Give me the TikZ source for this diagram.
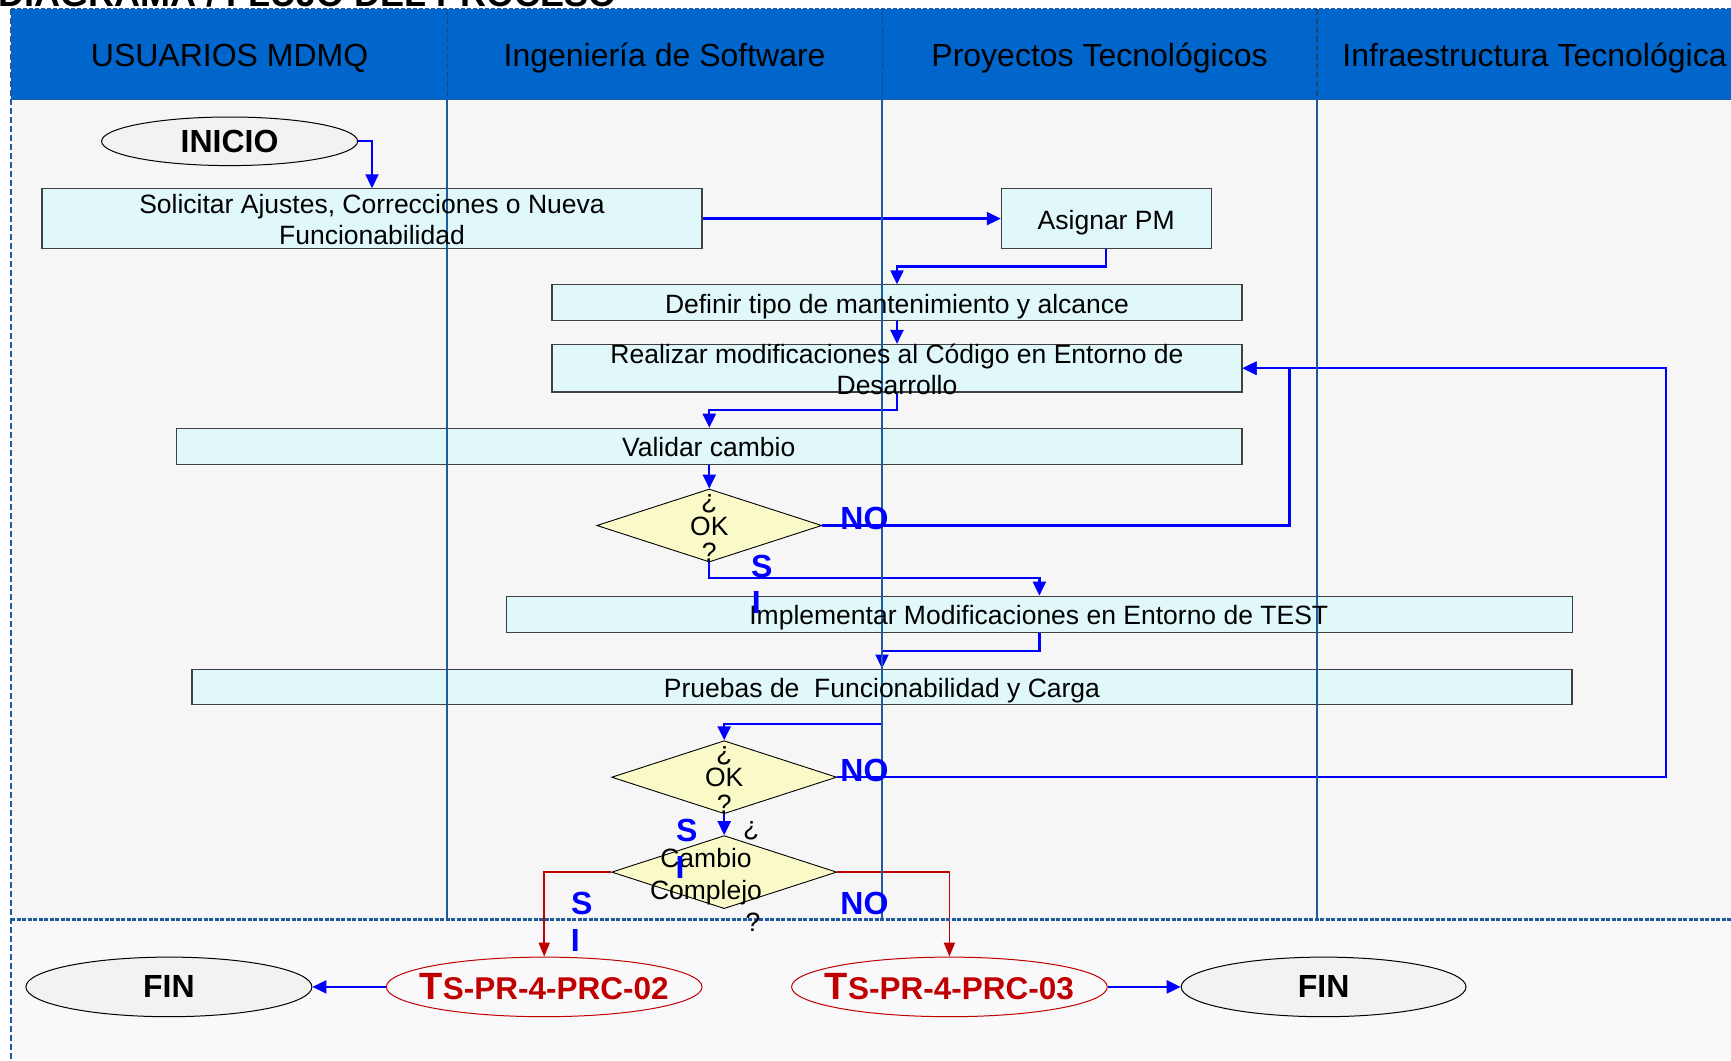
\documentclass[tikz,border=0pt]{standalone}
\usepackage{fontspec}
\setmainfont{Liberation Sans}
\usetikzlibrary{shapes.geometric,arrows.meta}
\definecolor{hdrblue}{HTML}{0066CC}
\definecolor{lanebg}{HTML}{F6F6F6}
\definecolor{lowbg}{HTML}{F9F9FB}
\definecolor{laneline}{HTML}{1F5A9E}
\definecolor{boxfill}{HTML}{E0F8FA}
\definecolor{boxdraw}{HTML}{404040}
\definecolor{diafill}{HTML}{FAFAC8}
\definecolor{ellfill}{HTML}{F2F2F2}
\definecolor{arrblue}{HTML}{0000FF}
\definecolor{tsred}{HTML}{C00000}
\begin{document}
\begin{tikzpicture}[x=1pt,y=-1pt,
  box/.style={rectangle, draw=boxdraw, line width=1.1pt, fill=boxfill, inner sep=0pt},
  boxtxt/.style={font=\fontsize{26.5}{30.9}\selectfont, align=center, inner sep=0pt},
  dia/.style={diamond, draw=black, line width=0.9pt, fill=diafill, inner sep=0pt, minimum width=225pt, minimum height=73pt},
  diatxt/.style={font=\fontsize{26.5}{26.5}\selectfont, align=center, inner sep=0pt},
  ell/.style={ellipse, draw=black, fill=ellfill, inner sep=0pt, line width=1pt, font=\bfseries\fontsize{32}{32}\selectfont},
  tsell/.style={ellipse, draw=tsred, fill=lowbg, inner sep=0pt, line width=1pt, minimum width=315.7pt, minimum height=59.6pt},
  tstxt/.style={text=tsred, font=\bfseries\fontsize{31.5}{31.5}\selectfont, inner sep=0pt},
  conn/.style={draw=arrblue, line width=2.3pt, -{Triangle[length=14pt,width=13pt]}},
  rconn/.style={draw=tsred, line width=1.8pt, -{Triangle[length=14pt,width=11pt]}},
  lbl/.style={text=arrblue, font=\bfseries\fontsize{32}{32}\selectfont, inner sep=0pt},
  hdr/.style={font=\fontsize{32}{32}\selectfont, inner sep=0pt, anchor=base},
  lanel/.style={draw=laneline, line width=2pt}
]
\useasboundingbox (0,0) rectangle (1731,1060);
\clip (0,0) rectangle (1731,1060);
% backgrounds
\fill[white] (0,0) rectangle (1731,1060);
\fill[lanebg] (11,99.4) rectangle (1731,919.6);
\fill[lowbg] (11,919.6) rectangle (1731,1060);
\fill[hdrblue] (11,8.8) rectangle (1731,99.4);
% title (cut off at top)
\node[anchor=base west, font=\bfseries\fontsize{36}{36}\selectfont, inner sep=0pt] (title) at (-2,6.5) {DIAGRAMA / FLUJO DEL PROCESO};
% header labels
\node[hdr] (h1) at (229.6,66.5) {USUARIOS MDMQ};
\node[hdr] (h2) at (664.6,66.5) {Ingeniería de Software};
\node[hdr] (h3) at (1099.5,66.5) {Proyectos Tecnológicos};
\node[hdr] (h4) at (1534.5,66.5) {Infraestructura Tecnológica};

% nodes
\node[ell, minimum width=256pt, minimum height=48.6pt] (inicio) at (229.6,141.3) {INICIO};
\node[box, minimum width=660pt, minimum height=59.6pt] (sol) at (372,218.6) {};
\node[box, minimum width=209.7pt, minimum height=59.6pt] (pm) at (1106.2,218.6) {};
\node[box, minimum width=690pt, minimum height=35.3pt] (def) at (897,302.5) {};
\node[box, minimum width=690pt, minimum height=47.5pt] (real) at (897,368.2) {};
\node[box, minimum width=1065.4pt, minimum height=36.5pt] (val) at (709.3,446.5) {};
\node[dia] (d1) at (709.3,525.5) {};
\node[box, minimum width=1065.3pt, minimum height=36.5pt] (impl) at (1039.4,614.4) {};
\node[box, minimum width=1380pt, minimum height=35.3pt] (prue) at (882,686.7) {};
\node[dia] (d2) at (724.2,777.2) {};
\node[dia] (d3) at (724.2,872.1) {};
\node[tsell] (ts2) at (544.2,986.9) {};
\node[tsell] (ts3) at (949.4,986.9) {};
\node[tstxt] (tts2) at (544.2,986.9) {{\fontsize{38}{38}\selectfont T}S-PR-4-PRC-02};
\node[tstxt] (tts3) at (949.4,986.9) {{\fontsize{38}{38}\selectfont T}S-PR-4-PRC-03};
\node[ell, minimum width=286pt, minimum height=59.6pt] (fin1) at (168.9,986.9) {FIN};
\node[ell, minimum width=284.8pt, minimum height=59.6pt] (fin2) at (1323.6,986.9) {FIN};

\coordinate (r1) at (1289.4,368.2);
\coordinate (r2) at (1665.9,368.2);

% connectors
\draw[conn] (inicio.east) -| (sol.north);
\draw[conn] (sol.east) -- (pm.west);
\draw[conn] (pm.south) -- ++(0,17.6) -| (def.north);
\draw[conn] (def.south) -- (real.north);
\draw[conn] (real.south) -- ++(0,17.7) -| (val.north);
\draw[conn] (val.south) -- (d1.north);
\draw[conn] (d1.east) -| (r1) -- (real.east);
\draw[conn] (d1.south) -- ++(0,15.4) -| (impl.north);
\draw[conn] (impl.south) -- ++(0,17.6) -| (prue.north);
\draw[conn] (prue.south) -- ++(0,18.8) -| (d2.north);
\draw[conn] (d2.east) -| (r2) -- (real.east);
\draw[conn] (d2.south) -- (d3.north);
\draw[rconn] (d3.west) -| (ts2.north);
\draw[rconn] (d3.east) -| (ts3.north);
\draw[conn] (ts2.west) -- (fin1.east);
\draw[conn] (ts3.east) -- (fin2.west);

% frame and lane lines
\draw[draw=laneline, line width=1.2pt, dash pattern=on 4pt off 2pt] (11,8.8) -- (1731,8.8);
\draw[draw=laneline, line width=1.5pt] (11,99.4) -- (1731,99.4);
\foreach \xx in {447.1,882.1,1317} {
  \draw[draw=laneline!80!black, line width=1.2pt, dash pattern=on 6pt off 3pt] (\xx,8.8) -- (\xx,99.4);
  \draw[lanel] (\xx,99.4) -- (\xx,919.6);
}
\draw[draw=laneline, line width=2.5pt, dash pattern=on 4pt off 1.5pt] (11,919.6) -- (1731,919.6);
\draw[draw=laneline, line width=2pt, dash pattern=on 6pt off 3pt] (11,8.8) -- (11,1060);

% box texts
\node[boxtxt] (tsol) at (372,219.5) {Solicitar Ajustes, Correcciones o Nueva\\Funcionabilidad};
\node[boxtxt, anchor=base] (tpm) at (1106.2,229.2) {Asignar PM};
\node[boxtxt, anchor=base] (tdef) at (897,313.1) {Definir tipo de mantenimiento y alcance};
\node[boxtxt] (treal) at (897,369.7) {Realizar modificaciones al Código en Entorno de\\Desarrollo};
\node[boxtxt, anchor=base] (tval) at (708.7,456.6) {Validar cambio};
\node[boxtxt, anchor=base] (timpl) at (1038.8,624.4) {Implementar Modificaciones en Entorno de TEST};
\node[boxtxt, anchor=base] (tprue) at (882,697.3) {Pruebas de\ \ Funcionabilidad y Carga};
% diamond texts
\node[diatxt] (td1) at (709.3,528.1) {¿\\OK\\?};
\node[diatxt] (td2) at (724.2,779.8) {¿\\OK\\?};
\node[diatxt, font=\fontsize{26.5}{32}\selectfont] (td3) at (706,876.4) {\hspace*{90.6pt}¿\\Cambio\\Complejo\\\hspace*{94pt}?};
% labels
\node[lbl] (no1) at (864.4,518.9) {NO};
\node[lbl] (s1) at (761.7,566.3) {S};
\node[lbl] (i1) at (756.2,602.8) {I};
\node[lbl] (no2) at (864.4,770.6) {NO};
\node[lbl] (s2) at (686.7,830.2) {S};
\node[lbl] (i2) at (680,867.7) {I};
\node[lbl] (s3) at (581.8,903) {S};
\node[lbl] (i3) at (575.2,940.6) {I};
\node[lbl] (no3) at (864.4,903) {NO};
\end{tikzpicture}
\end{document}
